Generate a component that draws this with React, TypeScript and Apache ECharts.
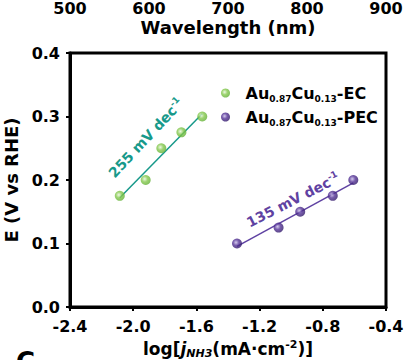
import React, { useEffect, useRef } from "react";
import * as echarts from "echarts";

const ecX = [-2.085, -1.921, -1.822, -1.695, -1.563];
const ecY = [0.175, 0.2, 0.25, 0.275, 0.3];
const pecX = [-1.343, -1.08, -0.943, -0.737, -0.607];
const pecY = [0.1, 0.125, 0.15, 0.175, 0.2];
const seriesNames = ["Au0.87Cu0.13-EC", "Au0.87Cu0.13-PEC"];
const slopeLabels = ["255 mV dec", "135 mV dec"];
const wavelengthTicks = [500, 600, 700, 800, 900];

function fit(xs: number[], ys: number[]) {
  const n = xs.length;
  const mx = xs.reduce((a, b) => a + b, 0) / n;
  const my = ys.reduce((a, b) => a + b, 0) / n;
  let sxy = 0, sxx = 0;
  for (let i = 0; i < n; i++) {
    sxy += (xs[i] - mx) * (ys[i] - my);
    sxx += (xs[i] - mx) * (xs[i] - mx);
  }
  const k = sxy / sxx;
  const b = my - k * mx;
  const x0 = Math.min(...xs), x1 = Math.max(...xs);
  return [[x0, k * x0 + b], [x1, k * x1 + b]];
}

const FONT = "'DejaVu Sans', 'Liberation Sans', Arial, sans-serif";

function sphere(light: string, mid: string, dark: string) {
  return {
    type: "radial", x: 0.4, y: 0.4, r: 0.65,
    colorStops: [
      { offset: 0, color: light },
      { offset: 0.45, color: mid },
      { offset: 1, color: dark },
    ],
  };
}

export default function App() {
  const ref = useRef<HTMLDivElement>(null);
  useEffect(() => {
    if (!ref.current) return;
    const chart = echarts.init(ref.current, null, { renderer: "svg" });
    const green = sphere("#eaf7df", "#86c94e", "#5fae33");
    const purple = sphere("#c9bde8", "#553397", "#2f1766");
    const teal = "#17998a";
    const purp = "#5f42a2";
    const rich = {
      b: { fontSize: 16, fontWeight: "bold", fontFamily: FONT, color: "#000", lineHeight: 20 },
      s: { fontSize: 9, fontWeight: "bold", fontFamily: FONT, color: "#000", lineHeight: 11, verticalAlign: "bottom" },
    };
    const option: any = {
      animation: false,
      textStyle: { fontFamily: FONT },
      grid: [
        { left: 70, right: 26, top: 53, bottom: 53, show: true, borderColor: "#000", borderWidth: 3, backgroundColor: "transparent", containLabel: false, outerBoundsMode: "none" },
        { left: 70, right: 26, top: -30.5, height: 30, show: false, containLabel: false, outerBoundsMode: "none" },
      ],
      xAxis: [
        {
          type: "value", gridIndex: 0, min: -2.4, max: -0.4, interval: 0.4,
          axisLine: { show: true, lineStyle: { color: "#000", width: 3 } },
          axisTick: { show: true, length: 4, lineStyle: { color: "#000", width: 2 } },
          splitLine: { show: false },
          axisLabel: { margin: 11, fontSize: 16, fontWeight: "bold", color: "#000", fontFamily: FONT, formatter: (v: number) => v.toFixed(1) },
          name: "{n|log[}{i|j}{s|NH3}{n|(mA·cm}{p|-2}{n|)]}",
          nameLocation: "middle",
          nameGap: 31,
          nameTextStyle: {
            rich: {
              n: { fontSize: 17, fontWeight: "bold", fontFamily: FONT, color: "#000", lineHeight: 20 },
              i: { fontSize: 17, fontWeight: "bold", fontStyle: "italic", fontFamily: FONT, color: "#000", lineHeight: 20 },
              s: { fontSize: 11, fontWeight: "bold", fontStyle: "italic", fontFamily: FONT, color: "#000", lineHeight: 12, verticalAlign: "bottom" },
              p: { fontSize: 11, fontWeight: "bold", fontFamily: FONT, color: "#000", lineHeight: 12, verticalAlign: "top" },
            },
          },
        },
        {
          type: "value", gridIndex: 1, min: 500, max: 900, interval: 100,
          axisLine: { show: false }, axisTick: { show: false }, splitLine: { show: false },
          axisLabel: { margin: 1, fontSize: 16, fontWeight: "bold", color: "#000", fontFamily: FONT, formatter: (v: number) => (wavelengthTicks.includes(v) ? String(v) : "") },
          name: "Wavelength (nm)", nameLocation: "middle", nameGap: 19,
          nameTextStyle: { fontSize: 18, fontWeight: "bold", color: "#000", fontFamily: FONT },
        },
      ],
      yAxis: [
        {
          type: "value", gridIndex: 0, min: 0, max: 0.4, interval: 0.1,
          axisLine: { show: true, lineStyle: { color: "#000", width: 3 } },
          axisTick: { show: true, length: 4, lineStyle: { color: "#000", width: 2 } },
          splitLine: { show: false },
          axisLabel: { margin: 10, fontSize: 16, fontWeight: "bold", color: "#000", fontFamily: FONT, formatter: (v: number) => v.toFixed(1) },
          name: "E (V vs RHE)", nameLocation: "middle", nameGap: 37,
          nameTextStyle: { fontSize: 18, fontWeight: "bold", color: "#000", fontFamily: FONT },
        },
        { type: "value", gridIndex: 1, show: false },
      ],
      legend: {
        data: seriesNames,
        orient: "vertical",
        left: 216, top: 80,
        itemWidth: 30, itemHeight: 9, itemGap: 6,
        icon: "circle",
        formatter: (name: string) =>
          name === seriesNames[0]
            ? "{b|Au}{s|0.87}{b|Cu}{s|0.13}{b|-EC}"
            : "{b|Au}{s|0.87}{b|Cu}{s|0.13}{b|-PEC}",
        textStyle: { rich },
      },
      series: [
        {
          name: seriesNames[0], type: "scatter", xAxisIndex: 0, yAxisIndex: 0, z: 5,
          symbolSize: 10, itemStyle: { color: green },
          data: ecX.map((x, i) => [x, ecY[i]]),
        },
        {
          name: seriesNames[1], type: "scatter", xAxisIndex: 0, yAxisIndex: 0, z: 5,
          symbolSize: 10, itemStyle: { color: purple },
          data: pecX.map((x, i) => [x, pecY[i]]),
        },
        {
          name: "ec-fit", type: "line", xAxisIndex: 0, yAxisIndex: 0, z: 3,
          symbol: "none", lineStyle: { color: teal, width: 1.5 },
          data: fit(ecX, ecY),
        },
        {
          name: "pec-fit", type: "line", xAxisIndex: 0, yAxisIndex: 0, z: 3,
          symbol: "none", lineStyle: { color: purp, width: 1.5 },
          data: fit(pecX, pecY),
        },
      ],
      graphic: [
        {
          type: "text", x: 146, y: 138, rotation: (47 * Math.PI) / 180,
          style: {
            text: "{a|" + slopeLabels[0] + "}{p|-1}",
            align: "center", verticalAlign: "middle",
            rich: {
              a: { fontSize: 14, fontWeight: "bold", fontFamily: FONT, fill: teal, color: teal, lineHeight: 17 },
              p: { fontSize: 9, fontWeight: "bold", fontFamily: FONT, fill: teal, color: teal, lineHeight: 9, verticalAlign: "top" },
            },
          },
        },
        {
          type: "text", x: 293, y: 200, rotation: (27 * Math.PI) / 180,
          style: {
            text: "{a|" + slopeLabels[1] + "}{p|-1}",
            align: "center", verticalAlign: "middle",
            rich: {
              a: { fontSize: 14, fontWeight: "bold", fontFamily: FONT, fill: purp, color: purp, lineHeight: 17 },
              p: { fontSize: 9, fontWeight: "bold", fontFamily: FONT, fill: purp, color: purp, lineHeight: 9, verticalAlign: "top" },
            },
          },
        },
        {
          type: "text", left: 16, top: 349,
          style: { text: "C", fontSize: 26, fontWeight: "bold", fontFamily: FONT, fill: "#000" },
        },
      ],
    };
    chart.setOption(option);
    return () => chart.dispose();
  }, []);
  return (
    <div
      ref={ref}
      style={{ position: "fixed", left: 0, top: 0, width: 412, height: 360, background: "#fff" }}
    />
  );
}
